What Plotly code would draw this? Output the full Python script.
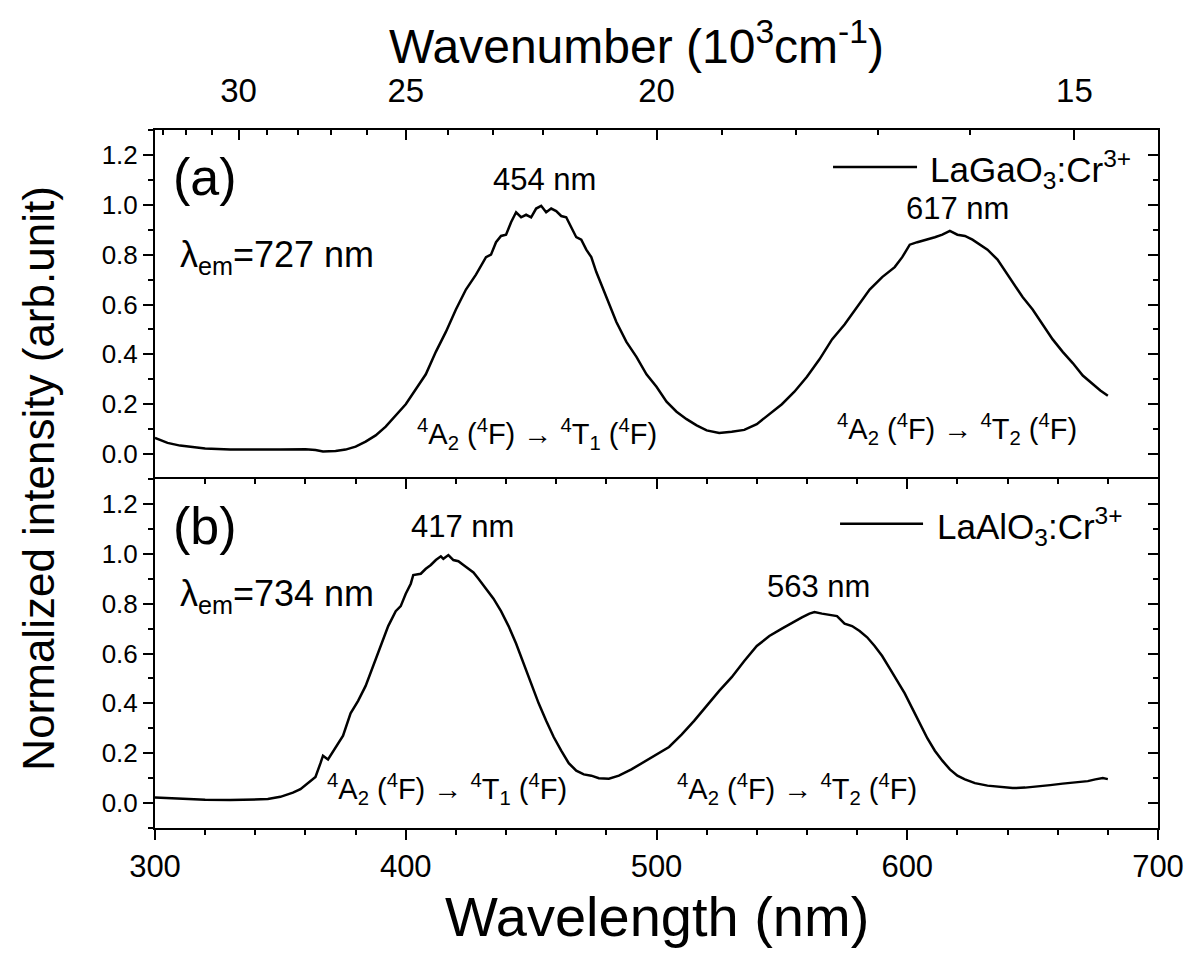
import plotly.graph_objects as go

# ---------------- data ----------------
lambda_a = [300, 305, 310, 315, 320, 330, 340, 350, 360, 364, 367, 372, 376, 380, 384, 388, 392, 396,
            400, 404, 408, 412, 416, 420, 424, 428, 432, 434, 436, 438, 440, 442, 444, 446, 448, 450,
            452, 454, 456, 458, 460, 462, 464, 466, 468, 470, 472, 474, 476, 478, 480, 484, 488, 492,
            496, 500, 504, 508, 512, 516, 520, 525, 530, 535, 540, 545, 550, 555, 560, 565, 570, 575,
            580, 585, 590, 595, 598, 601, 604, 608, 611, 614, 617, 620, 623, 626, 629, 632, 636, 640,
            643, 646, 650, 654, 658, 662, 666, 670, 674, 677, 680]
int_a = [0.065, 0.045, 0.034, 0.027, 0.022, 0.018, 0.017, 0.018, 0.019, 0.016, 0.010, 0.012, 0.018,
         0.030, 0.050, 0.075, 0.110, 0.155, 0.200, 0.260, 0.320, 0.410, 0.490, 0.580, 0.660, 0.720,
         0.790, 0.800, 0.850, 0.875, 0.880, 0.930, 0.970, 0.950, 0.960, 0.950, 0.985, 0.996, 0.970,
         0.985, 0.975, 0.955, 0.950, 0.910, 0.870, 0.860, 0.820, 0.790, 0.730, 0.680, 0.630, 0.530,
         0.450, 0.390, 0.320, 0.270, 0.210, 0.170, 0.140, 0.115, 0.095, 0.085, 0.090, 0.097, 0.120,
         0.160, 0.200, 0.250, 0.310, 0.380, 0.460, 0.520, 0.590, 0.660, 0.710, 0.750, 0.790, 0.840,
         0.850, 0.860, 0.870, 0.880, 0.895, 0.880, 0.875, 0.860, 0.840, 0.820, 0.780, 0.720, 0.670,
         0.630, 0.580, 0.520, 0.460, 0.410, 0.365, 0.315, 0.280, 0.255, 0.234]

lambda_b = [300, 310, 320, 330, 340, 345, 350, 355, 358, 361, 364, 366, 367, 369, 372, 375, 378, 381,
            384, 387, 390, 393, 396, 398, 400, 402, 403, 406, 408, 410, 412, 414, 415, 417, 419, 421,
            423, 425, 427, 429, 432, 435, 438, 441, 444, 447, 450, 453, 456, 459, 462, 465, 468, 471,
            474, 477, 481, 485, 490, 495, 500, 505, 510, 515, 520, 525, 530, 535, 540, 545, 550, 555,
            558, 561, 563, 566, 569, 572, 575, 578, 581, 584, 587, 590, 593, 596, 599, 602, 605, 608,
            611, 614, 617, 620, 623, 627, 632, 637, 642, 647, 652, 657, 662, 667, 672, 675, 678, 680]
int_b = [0.022, 0.016, 0.013, 0.012, 0.013, 0.016, 0.025, 0.042, 0.056, 0.080, 0.105, 0.160, 0.190,
         0.175, 0.220, 0.270, 0.360, 0.410, 0.470, 0.550, 0.630, 0.710, 0.770, 0.790, 0.840, 0.880,
         0.915, 0.920, 0.940, 0.955, 0.975, 0.990, 0.980, 0.995, 0.975, 0.970, 0.955, 0.940, 0.925,
         0.900, 0.860, 0.820, 0.770, 0.710, 0.640, 0.560, 0.480, 0.400, 0.330, 0.265, 0.210, 0.160,
         0.130, 0.115, 0.110, 0.100, 0.098, 0.110, 0.135, 0.165, 0.195, 0.225, 0.275, 0.330, 0.390,
         0.450, 0.505, 0.570, 0.630, 0.670, 0.700, 0.730, 0.745, 0.760, 0.766, 0.760, 0.755, 0.750,
         0.720, 0.710, 0.690, 0.665, 0.630, 0.590, 0.540, 0.490, 0.440, 0.380, 0.320, 0.260, 0.210,
         0.170, 0.135, 0.110, 0.095, 0.080, 0.070, 0.065, 0.060, 0.062, 0.066, 0.072, 0.078, 0.083,
         0.088, 0.095, 0.100, 0.096]

wn_major = [30, 25, 20, 15]                 # 10^3 cm^-1
wn_minor = list(range(15, 34))
wn_major_labels = [str(k) for k in wn_major]

series_names = ["LaGaO<sub>3</sub>:Cr<sup>3+</sup>", "LaAlO<sub>3</sub>:Cr<sup>3+</sup>"]
em_labels = ["λ<sub>em</sub>=727 nm", "λ<sub>em</sub>=734 nm"]
transition_T1 = "<sup>4</sup>A<sub>2</sub> (<sup>4</sup>F) → <sup>4</sup>T<sub>1</sub> (<sup>4</sup>F)"
transition_T2 = "<sup>4</sup>A<sub>2</sub> (<sup>4</sup>F) → <sup>4</sup>T<sub>2</sub> (<sup>4</sup>F)"

FONT = "Liberation Sans, Arial, sans-serif"
BLACK = "black"

fig = go.Figure()
fig.add_trace(go.Scatter(x=lambda_a, y=int_a, mode="lines", xaxis="x2", yaxis="y2",
                         line=dict(color=BLACK, width=2.5), name="LaGaO3:Cr3+"))
fig.add_trace(go.Scatter(x=lambda_b, y=int_b, mode="lines", xaxis="x", yaxis="y",
                         line=dict(color=BLACK, width=2.5), name="LaAlO3:Cr3+"))
# empty helper traces so the mirror axes are drawn
fig.add_trace(go.Scatter(x=[None], y=[None], xaxis="x3", yaxis="y", hoverinfo="skip"))
fig.add_trace(go.Scatter(x=[None], y=[None], xaxis="x", yaxis="y3", hoverinfo="skip"))
fig.add_trace(go.Scatter(x=[None], y=[None], xaxis="x2", yaxis="y4", hoverinfo="skip"))

xr = [300, 700]
yr = [-0.1, 1.3]
common_line = dict(showline=True, linecolor=BLACK, linewidth=2, showgrid=False, zeroline=False,
                   tickcolor=BLACK, tickwidth=1.8)

yax = dict(range=yr, tickmode="linear", tick0=0, dtick=0.2, tickformat=".1f", ticks="outside",
           ticklen=10, tickfont=dict(family=FONT, size=26, color=BLACK),
           minor=dict(dtick=0.1, tick0=0, ticks="outside", ticklen=5, tickcolor=BLACK, tickwidth=1.8),
           **common_line)
yax_r = dict(range=yr, tickmode="linear", tick0=0, dtick=0.2, ticks="inside", ticklen=10,
             showticklabels=False,
             minor=dict(dtick=0.1, tick0=0, ticks="inside", ticklen=5, tickcolor=BLACK, tickwidth=1.8),
             **common_line)

# page body has an 8px margin: size the figure so the plot area lands where the reference has it
fig.update_layout(
    width=1177, height=940,
    margin=dict(l=147, r=27, t=122, b=120, autoexpand=False),
    paper_bgcolor="white", plot_bgcolor="white",
    showlegend=False,
    font=dict(family=FONT, color=BLACK),
    xaxis=dict(domain=[0, 1], anchor="y", range=xr, tickmode="linear", tick0=300, dtick=100,
               ticks="outside", ticklen=10, automargin=False,
               tickfont=dict(family=FONT, size=31, color=BLACK),
               minor=dict(dtick=20, tick0=300, ticks="outside", ticklen=5, tickcolor=BLACK, tickwidth=1.8),
               **common_line),
    xaxis3=dict(overlaying="x", anchor="y", side="top", range=xr, tickmode="linear", tick0=300,
                dtick=100, ticks="inside", ticklen=10, showticklabels=False,
                minor=dict(dtick=20, tick0=300, ticks="inside", ticklen=5, tickcolor=BLACK, tickwidth=1.8),
                **common_line),
    xaxis2=dict(domain=[0, 1], anchor="y2", side="top", range=xr, tickmode="array",
                tickvals=[1e4 / k for k in wn_major], ticktext=wn_major_labels,
                ticks="inside", ticklen=10, ticklabelstandoff=13,
                tickfont=dict(family=FONT, size=33, color=BLACK),
                minor=dict(tickmode="array", tickvals=[1e4 / k for k in wn_minor], ticks="inside",
                           ticklen=5, tickcolor=BLACK, tickwidth=1.8),
                **common_line),
    yaxis=dict(domain=[0, 0.5], anchor="x", **yax),
    yaxis2=dict(domain=[0.5, 1], anchor="x2", **yax),
    yaxis3=dict(overlaying="y", anchor="x", side="right", **yax_r),
    yaxis4=dict(overlaying="y2", anchor="x2", side="right", **yax_r),
)

def ann(text, x, y, xref, yref, size, xanchor="center", yanchor="middle", **kw):
    fig.add_annotation(text=text, x=x, y=y, xref=xref, yref=yref, showarrow=False,
                       xanchor=xanchor, yanchor=yanchor,
                       font=dict(family=FONT, size=size, color=BLACK), **kw)

# axis titles
ann("Wavelength (nm)", 0.5, -0.127, "paper", "paper", 56)
ann("Wavenumber (10<sup>3</sup>cm<sup>-1</sup>)", 0.48, 1.125, "paper", "paper", 48)
ann("Normalized intensity (arb.unit)", -0.117, 0.5, "paper", "paper", 44, textangle=-90)

# panel (a)
ann("(a)", 320, 1.11, "x2", "y2", 52)
ann(em_labels[0], 309, 0.79, "x2", "y2", 36, xanchor="left")
ann("454 nm", 455.5, 1.10, "x2", "y2", 31)
ann("617 nm", 620, 0.985, "x2", "y2", 31)
ann(transition_T1, 452.3, 0.08, "x2", "y2", 29)
ann(transition_T2, 620, 0.10, "x2", "y2", 29)
ann(series_names[0], 608.3, 1.14, "x2", "y2", 35, xanchor="left")
fig.add_shape(type="line", xref="x2", yref="y2", x0=570.4, x1=603.9, y0=1.152, y1=1.152,
              line=dict(color=BLACK, width=2.5))

# panel (b)
ann("(b)", 320, 1.11, "x", "y", 52)
ann(em_labels[1], 309, 0.83, "x", "y", 36, xanchor="left")
ann("417 nm", 422.6, 1.108, "x", "y", 31)
ann("563 nm", 564.8, 0.867, "x", "y", 31)
ann(transition_T1, 416.6, 0.055, "x", "y", 29)
ann(transition_T2, 556.2, 0.055, "x", "y", 29)
ann(series_names[1], 611, 1.11, "x", "y", 35, xanchor="left")
fig.add_shape(type="line", xref="x", yref="y", x0=573.2, x1=606.3, y0=1.12, y1=1.12,
              line=dict(color=BLACK, width=2.5))

fig.write_html("out.html")
